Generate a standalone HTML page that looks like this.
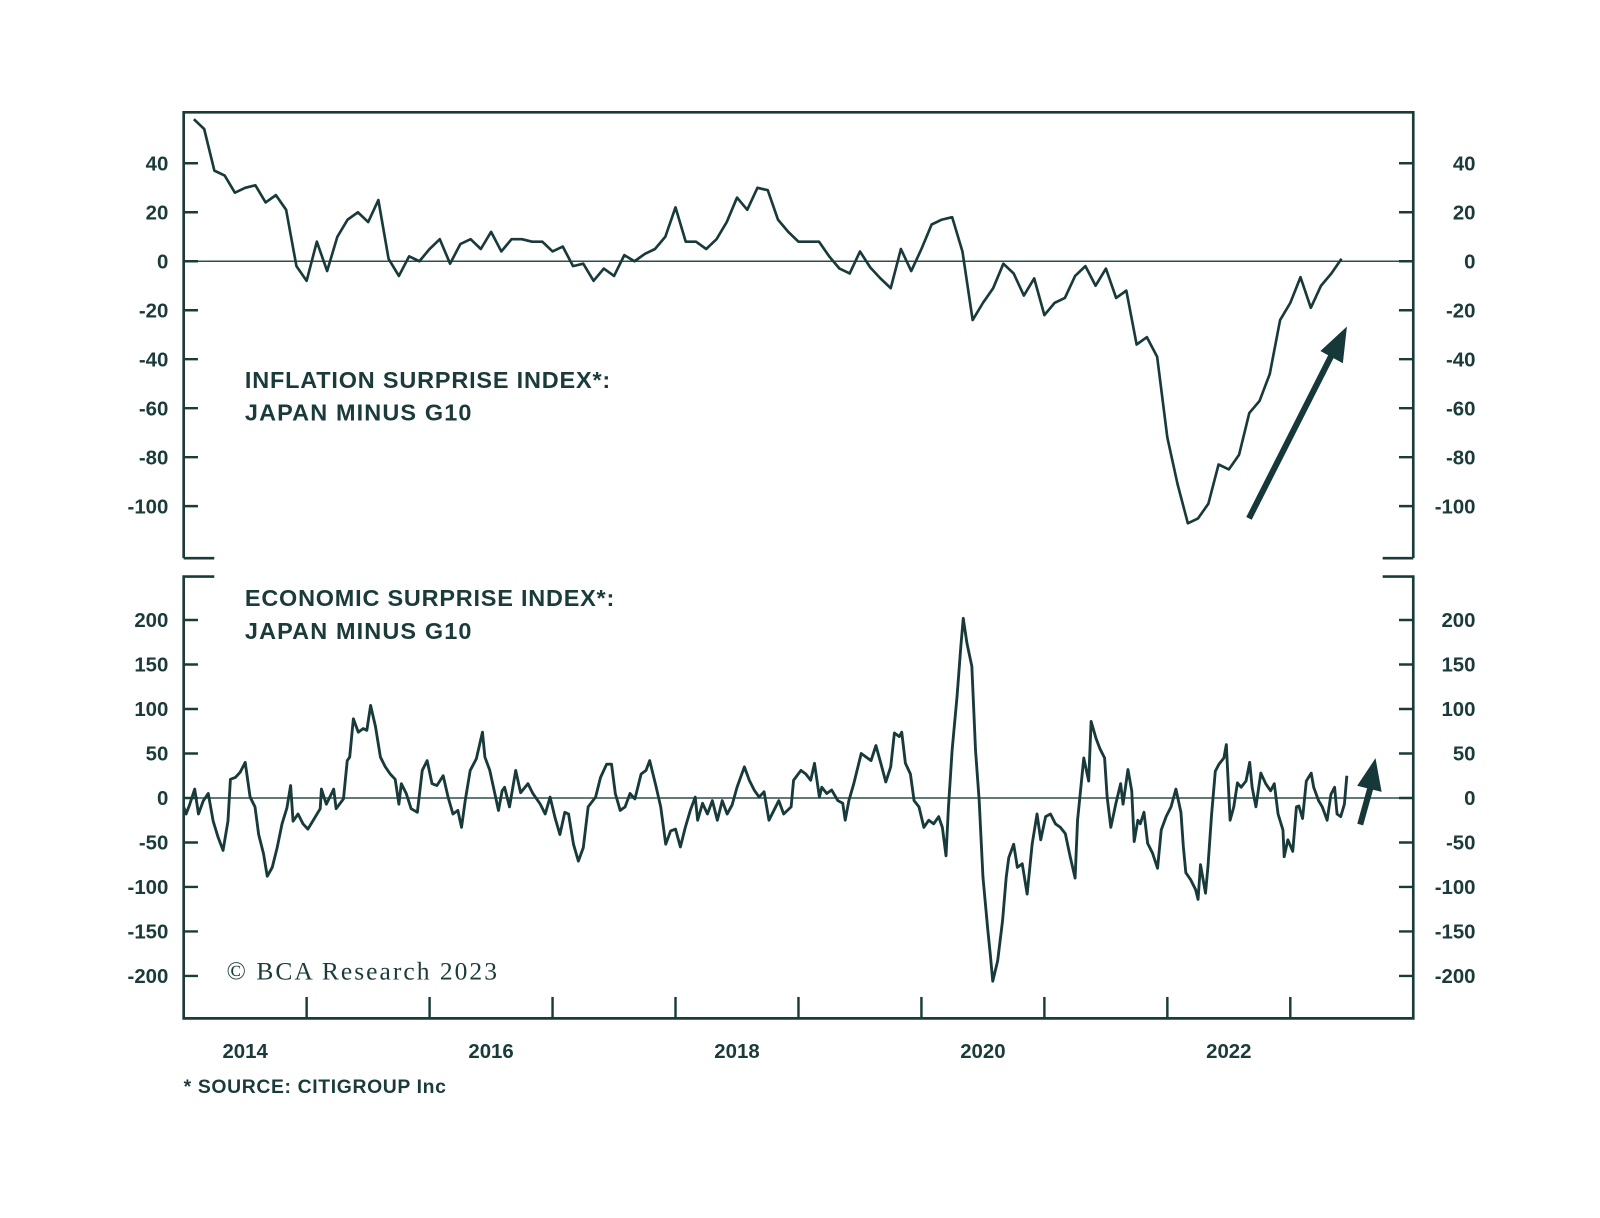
<!DOCTYPE html>
<html><head><meta charset="utf-8"><style>
html,body{margin:0;padding:0;background:#fff;}
svg{display:block;}
text{font-family:"Liberation Sans",sans-serif;fill:#1b3b3b;}
</style></head>
<body>
<svg id="chart" width="1600" height="1218" viewBox="0 0 1568 1193.6" xmlns="http://www.w3.org/2000/svg">
<g id="frame"></g>
<g id="top"></g>
<g id="bot"></g>
<text x="240" y="380" font-size="23" font-weight="bold" textLength="358">INFLATION SURPRISE INDEX*:</text>
<text x="240" y="412" font-size="23" font-weight="bold" textLength="222">JAPAN MINUS G10</text>
<text x="240" y="594" font-size="23" font-weight="bold" textLength="362">ECONOMIC SURPRISE INDEX*:</text>
<text x="240" y="626" font-size="23" font-weight="bold" textLength="222">JAPAN MINUS G10</text>
<text x="222" y="960" font-size="25" style="font-family:'Liberation Serif',serif" textLength="265">© BCA Research 2023</text>
<text x="180" y="1071" font-size="19" font-weight="bold" textLength="257">* SOURCE: CITIGROUP Inc</text>
<g>
<line x1="1224" y1="508" x2="1305" y2="348" stroke="#163838" stroke-width="6"/>
<polygon points="1320,320 1316,356 1294,344" fill="#163838"/>
</g>
<g>
<line x1="1333" y1="808" x2="1343" y2="772" stroke="#163838" stroke-width="6"/>
<polygon points="1348,743 1354,776 1330,770" fill="#163838"/>
</g>
</svg>
<script>
const inflStart = 2014 + 1/12; // monthly series start
const inflValues = [58,54,37,35,28,30,31,24,27,21,-2,-8,8,-4,10,17,20,16,25,1,-6,2,0,5,9,-1,7,9,5,12,4,9,9,8,8,4,6,-2,-1,-8,-3,-6,2.5,0,3,5,10,22,8,8,5,9,16,26,21,30,29,17,12,8,8,8,2,-3,-5,4,-2.5,-7,-11,5,-4,5,15,17,18,4,-24,-17,-11,-1,-5,-14,-7,-22,-17,-15,-6,-2,-10,-3,-15,-12,-34,-31,-39,-72,-91,-107,-105,-99,-83,-85,-79,-62,-57,-46,-24,-17,-6.5,-19,-10,-5,1];
const econDates = [2014.00,2014.02,2014.05,2014.09,2014.12,2014.16,2014.20,2014.24,2014.28,2014.32,2014.36,2014.38,2014.42,2014.46,2014.50,2014.54,2014.58,2014.61,2014.65,2014.68,2014.72,2014.76,2014.80,2014.84,2014.87,2014.89,2014.93,2014.97,2015.01,2015.05,2015.11,2015.12,2015.16,2015.22,2015.24,2015.30,2015.33,2015.35,2015.38,2015.42,2015.46,2015.49,2015.52,2015.56,2015.60,2015.64,2015.68,2015.72,2015.75,2015.77,2015.81,2015.85,2015.90,2015.94,2015.98,2016.02,2016.06,2016.11,2016.15,2016.19,2016.23,2016.26,2016.29,2016.33,2016.38,2016.43,2016.45,2016.49,2016.53,2016.56,2016.59,2016.61,2016.65,2016.70,2016.74,2016.80,2016.84,2016.90,2016.94,2016.98,2017.02,2017.06,2017.10,2017.13,2017.17,2017.21,2017.25,2017.29,2017.35,2017.39,2017.44,2017.48,2017.51,
2017.55,2017.59,2017.63,2017.67,2017.72,2017.76,2017.79,2017.84,2017.88,2017.92,2017.96,2018.00,2018.04,2018.08,2018.12,2018.16,2018.18,2018.22,2018.26,2018.30,2018.34,2018.38,2018.42,2018.46,2018.50,2018.56,2018.60,2018.64,2018.68,2018.72,2018.76,2018.80,2018.84,2018.88,2018.94,2018.96,2019.02,2019.06,2019.10,2019.13,2019.17,2019.19,2019.23,2019.27,2019.32,2019.36,2019.38,2019.41,2019.45,2019.51,2019.55,2019.59,2019.63,2019.67,2019.71,2019.75,2019.78,2019.82,2019.84,2019.87,2019.91,2019.94,2019.98,2020.02,2020.06,2020.10,2020.14,2020.17,2020.20,2020.22,2020.25,2020.29,2020.32,2020.34,2020.37,2020.41,2020.44,2020.47,2020.50,2020.54,2020.56,2020.58,2020.62,2020.66,2020.69,2020.71,2020.75,2020.78,2020.82,2020.86,2020.90,2020.94,
2020.97,2021.01,2021.05,2021.09,2021.13,2021.17,2021.21,2021.25,2021.27,2021.30,2021.32,2021.36,2021.38,2021.42,2021.45,2021.49,2021.51,2021.54,2021.58,2021.62,2021.64,2021.68,2021.71,2021.73,2021.76,2021.78,2021.81,2021.84,2021.88,2021.92,2021.95,2021.99,2022.03,2022.07,2022.11,2022.13,2022.15,2022.19,2022.23,2022.25,2022.27,2022.31,2022.33,2022.36,2022.39,2022.42,2022.46,2022.48,2022.51,2022.54,2022.57,2022.60,2022.64,2022.67,2022.69,2022.72,2022.76,2022.80,2022.84,2022.87,2022.90,2022.94,2022.95,2022.98,2023.02,2023.05,2023.07,2023.10,2023.13,2023.17,2023.19,2023.23,2023.26,2023.30,2023.33,2023.36,2023.38,2023.41,2023.44,2023.46];
const econValues = [-10,-18,-7,10,-18,-3,5,-26,-44,-59,-26,21,23,29,40,1,-10,-41,-63,-88,-78,-56,-29,-11,14,-26,-18,-29,-35,-26,-12,10,-7,10,-12,-1,42,46,89,74,78,76,104,80,46,35,27,21,-7,16,5,-12,-16,31,42,16,14,25,1,-18,-14,-33,-3,31,44,74,46,31,5,-14,8,12,-10,31,6,16,5,-7,-18,1,-22,-41,-16,-18,-52,-71,-56,-10,1,23,38,38,5,
-14,-10,5,-1,27,31,42,14,-10,-52,-37,-35,-55,-33,-14,1,-25,-6,-18,-3,-25,-3,-18,-8,12,35,20,9,1,7,-25,-14,-3,-18,-10,20,31,27,20,39,1,12,5,9,-3,-6,-25,-3,16,50,46,42,59,39,18,35,73,69,74,39,27,-3,-10,-33,-25,-29,-21,-33,-65,-10,54,114,170,202,174,148,54,-3,-89,-149,-176,-206,-183,-138,-89,-67,-52,-78,-74,-108,-52,-18,
-47,-21,-18,-29,-33,-40,-66,-90,-25,16,45,19,86,67,56,45,1,-33,-7,16,-7,32,8,-49,-25,-29,-16,-51,-62,-79,-36,-21,-10,10,-16,-55,-84,-92,-103,-114,-75,-107,-77,-18,30,38,45,60,-25,-10,17,12,19,40,12,-10,28,16,8,16,-18,-36,-66,-47,-60,-10,-9,-23,19,28,12,-3,-10,-25,4,12,-18,-21,-7,25];
const yearLabels = ["2014","2016","2018","2020","2022"];
const inflTicks = [40,20,0,-20,-40,-60,-80,-100];
const econTicks = [200,150,100,50,0,-50,-100,-150,-200];

const NS="http://www.w3.org/2000/svg";
const C="#1b3b3b";
const X0=180,X1=1385,T0=2014,T1=2024;
function xScale(t){return X0+(t-T0)/(T1-T0)*(X1-X0);}
function yInfl(v){return 256-v*2.4;}
function yEcon(v){return 782-v*0.872;}
function mk(tag,attrs,parent){const e=document.createElementNS(NS,tag);for(const k in attrs)e.setAttribute(k,attrs[k]);parent.appendChild(e);return e;}
const frame=document.getElementById('frame'),top_=document.getElementById('top'),bot=document.getElementById('bot');

// frames
let p=mk('path',{d:`M${X0} 547 V110 H${X1} V547 M${X0} 547 H210 M${X1} 547 H1355`,fill:'none',stroke:C,'stroke-width':2.6},frame);


p=mk('path',{d:`M210 565 H${X0} V998 H${X1} V565 H1355`,fill:'none',stroke:C,'stroke-width':2.6},frame);



// zero lines
p=mk('line',{x1:X0,x2:X1,y1:yInfl(0),y2:yInfl(0),stroke:'#2e4d4d','stroke-width':1.5},top_);


p=mk('line',{x1:X0,x2:X1,y1:yEcon(0),y2:yEcon(0),stroke:'#2e4d4d','stroke-width':1.5},bot);



// y ticks & labels
inflTicks.forEach(v=>{const y=yInfl(v);
 let t=mk('path',{d:`M${X0} ${y} h14 M${X1} ${y} h-14`,stroke:C,'stroke-width':2.4},top_);
 
 
 let a=mk('text',{x:165,y:y+7,'font-size':20,'font-weight':'bold','text-anchor':'end'},top_);a.textContent=v;
 
 
 let b=mk('text',{x:1446,y:y+7,'font-size':20,'font-weight':'bold','text-anchor':'end'},top_);b.textContent=v;
 
 
});
econTicks.forEach(v=>{const y=yEcon(v);
 let t=mk('path',{d:`M${X0} ${y} h14 M${X1} ${y} h-14`,stroke:C,'stroke-width':2.4},bot);
 
 
 let a=mk('text',{x:165,y:y+7,'font-size':20,'font-weight':'bold','text-anchor':'end'},bot);a.textContent=v;
 
 
 let b=mk('text',{x:1446,y:y+7,'font-size':20,'font-weight':'bold','text-anchor':'end'},bot);b.textContent=v;
 
 
});
// x ticks
for(let yr=2015;yr<=2023;yr++){const x=xScale(yr);
 let t=mk('line',{x1:x,x2:x,y1:998,y2:977,stroke:C,'stroke-width':2.4},bot);
 
 
}
yearLabels.forEach(l=>{const x=xScale(+l+0.5);
 let a=mk('text',{x:x,y:1037,'font-size':20,'font-weight':'bold','text-anchor':'middle'},bot);a.textContent=l;
 
 
});
// series
let d=inflValues.map((v,i)=>(i?'L':'M')+xScale(inflStart+i/12).toFixed(1)+' '+yInfl(v).toFixed(1)).join(' ');
p=mk('path',{d:d,fill:'none',stroke:'#183a3a','stroke-width':2.6,'stroke-linejoin':'round'},top_);


d=econValues.map((v,i)=>(i?'L':'M')+xScale(econDates[i]).toFixed(1)+' '+yEcon(v).toFixed(1)).join(' ');
p=mk('path',{d:d,fill:'none',stroke:'#183a3a','stroke-width':2.8,'stroke-linejoin':'round'},bot);


</script>
</body></html>
